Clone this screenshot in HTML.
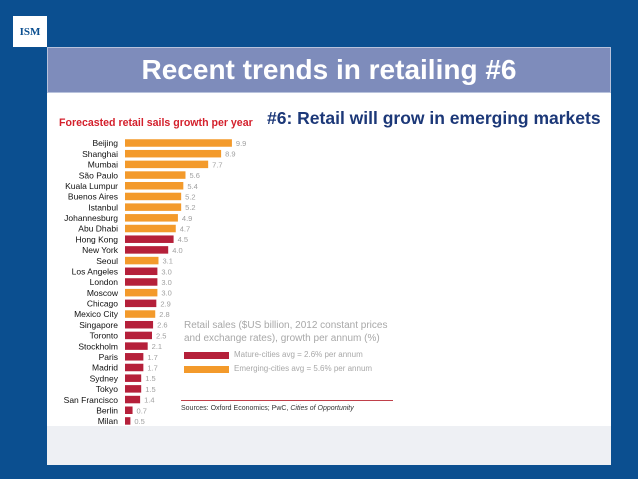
<!DOCTYPE html>
<html><head><meta charset="utf-8"><style>
body{margin:0;width:638px;height:479px;background:#0b4f90;font-family:"Liberation Sans",sans-serif;position:relative;overflow:hidden}
.abs{position:absolute}
</style></head><body>
<div class="abs" style="left:13px;top:16px;width:34px;height:31px;background:#fff;color:#0b4f90;font:bold 11px 'Liberation Serif',serif;display:flex;align-items:center;justify-content:center">ISM</div>
<div class="abs" style="left:47px;top:47px;width:564px;height:46px;background:#7e8cbb;border:1px solid #b8c2dc;box-sizing:border-box;color:#fff;font:bold 28px 'Liberation Sans',sans-serif;text-align:center;line-height:44px">Recent trends in retailing #6</div>
<div class="abs" style="left:47px;top:93px;width:564px;height:372px;background:#fff"></div>
<div class="abs" style="left:47px;top:426px;width:564px;height:39px;background:#eef0f4"></div>
<div class="abs" style="left:59px;top:117px;color:#d4202c;font:bold 10.6px 'Liberation Sans',sans-serif">Forecasted retail sails growth per year</div>
<div class="abs" style="left:267px;top:108px;color:#1c3878;font:bold 17.5px 'Liberation Sans',sans-serif;white-space:nowrap">#6: Retail will grow in emerging markets</div>
<svg class="abs" style="left:0;top:0" width="638" height="479" id="chart"></svg>
<div class="abs" style="left:184px;top:319px;color:#a8a8a8;font:10px 'Liberation Sans',sans-serif;line-height:13px">Retail sales ($US billion, 2012 constant prices<br>and exchange rates), growth per annum (%)</div>
<div class="abs" style="left:184px;top:352px;width:45px;height:7px;background:#b5203a"></div>
<div class="abs" style="left:234px;top:350px;color:#a8a8a8;font:8px 'Liberation Sans',sans-serif">Mature-cities avg = 2.6% per annum</div>
<div class="abs" style="left:184px;top:366px;width:45px;height:7px;background:#f39a2b"></div>
<div class="abs" style="left:234px;top:364px;color:#a8a8a8;font:8px 'Liberation Sans',sans-serif">Emerging-cities avg = 5.6% per annum</div>
<div class="abs" style="left:181px;top:400px;width:212px;height:1px;background:#c0404a"></div>
<div class="abs" style="left:181px;top:405px;color:#333;font:7px 'Liberation Sans',sans-serif">Sources: Oxford Economics; PwC, <i>Cities of Opportunity</i></div>
<script>
const cities=["Beijing","Shanghai","Mumbai","São Paulo","Kuala Lumpur","Buenos Aires","Istanbul","Johannesburg","Abu Dhabi","Hong Kong","New York","Seoul","Los Angeles","London","Moscow","Chicago","Mexico City","Singapore","Toronto","Stockholm","Paris","Madrid","Sydney","Tokyo","San Francisco","Berlin","Milan"];
const growth=[9.9,8.9,7.7,5.6,5.4,5.2,5.2,4.9,4.7,4.5,4.0,3.1,3.0,3.0,3.0,2.9,2.8,2.6,2.5,2.1,1.7,1.7,1.5,1.5,1.4,0.7,0.5];
const emerging=[1,1,1,1,1,1,1,1,1,0,0,1,0,0,1,0,1,0,0,0,0,0,0,0,0,0,0];
const svg=document.getElementById('chart');const NS='http://www.w3.org/2000/svg';
const x0=125,pxPerUnit=10.8,y0=143,step=10.69,bh=7.5;
const xs=v=>x0+v*pxPerUnit, ys=i=>y0+i*step;
cities.forEach((c,i)=>{
 const r=document.createElementNS(NS,'rect');
 r.setAttribute('x',x0);r.setAttribute('y',ys(i)-bh/2);r.setAttribute('width',xs(growth[i])-x0);r.setAttribute('height',bh);
 r.setAttribute('fill',emerging[i]?'#f39a2b':'#b5203a');
 
 
 svg.appendChild(r);
 const t=document.createElementNS(NS,'text');
 t.setAttribute('x',118);t.setAttribute('y',ys(i)+3.2);t.setAttribute('text-anchor','end');t.setAttribute('font-size','8.5');t.setAttribute('fill','#111');t.setAttribute('font-family','Liberation Sans, sans-serif');
 t.textContent=c;
 
 
 svg.appendChild(t);
 const v=document.createElementNS(NS,'text');
 v.setAttribute('x',xs(growth[i])+4);v.setAttribute('y',ys(i)+3);v.setAttribute('font-size','7.5');v.setAttribute('fill','#a0a0a0');v.setAttribute('font-family','Liberation Sans, sans-serif');
 v.textContent=growth[i].toFixed(1);
 
 
 svg.appendChild(v);
});
</script>
</body></html>
